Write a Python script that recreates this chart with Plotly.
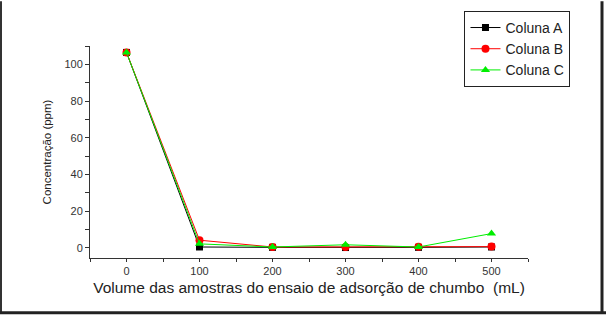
import plotly.graph_objects as go

volume = [0, 100, 200, 300, 400, 500]
coluna_a = [106.5, 0.5, 0.3, 0.2, 0.3, 0.5]
coluna_b = [106.5, 4.2, 0.5, 0.5, 0.6, 0.7]
coluna_c = [106.5, 2.2, 0.5, 1.7, 0.5, 7.8]
x_ticks = [0, 100, 200, 300, 400, 500]
y_ticks = [0, 20, 40, 60, 80, 100]

fig = go.Figure()
fig.add_trace(go.Scatter(x=volume, y=coluna_a, name="Coluna A", mode="lines+markers",
                         line=dict(color="black", width=1),
                         marker=dict(symbol="square", size=7, color="black")))
fig.add_trace(go.Scatter(x=volume, y=coluna_b, name="Coluna B", mode="lines+markers",
                         line=dict(color="#ff0000", width=1),
                         marker=dict(symbol="circle", size=8, color="#ff0000")))
fig.add_trace(go.Scatter(x=volume, y=coluna_c, name="Coluna C", mode="lines+markers",
                         line=dict(color="#00ee00", width=1),
                         marker=dict(symbol="triangle-up", size=8, color="#00ee00")))

fig.update_layout(
    width=606, height=315,
    margin=dict(l=90, r=78, t=45, b=57),
    paper_bgcolor="white", plot_bgcolor="white",
    font=dict(family="Liberation Sans, Arial", color="#222"),
    showlegend=True,
    legend=dict(x=1.097, y=1.16, xanchor="right", yanchor="top",
                bordercolor="#222", borderwidth=1, bgcolor="white",
                font=dict(size=14, color="#222"), tracegroupgap=0,
                itemwidth=30),
    xaxis=dict(range=[-50, 550], tickvals=x_ticks, ticks="outside", ticklen=3,
               tickcolor="#333", showline=True, linecolor="#333", linewidth=1,
               showgrid=False, zeroline=False, tickfont=dict(size=11, color="#333"),
               minor=dict(dtick=50, ticks="outside", ticklen=3, tickcolor="#333"),
               title=dict(text="Volume das amostras do ensaio de adsorção de chumbo  (mL)",
                          font=dict(size=15.5, color="#222"), standoff=5)),
    yaxis=dict(range=[-5.5, 110], tickvals=y_ticks, ticks="outside", ticklen=4,
               tickcolor="#333", showline=True, linecolor="#333", linewidth=1,
               showgrid=False, zeroline=False, tickfont=dict(size=11, color="#333"),
               minor=dict(dtick=10, ticks="outside", ticklen=4, tickcolor="#333"),
               title=dict(text="Concentração (ppm)",
                          font=dict(size=11.5, color="#222"),
                          standoff=10)),
)

# outer frame (left, right, bottom)
pw = 606 - 90 - 78
ph = 315 - 45 - 57
def px(xp):
    return (xp - 90) / pw
def py(yp):
    return (315 - 57 - yp) / ph
fig.add_shape(type="line", xref="paper", yref="paper", x0=px(1), x1=px(1), y0=py(0), y1=py(313),
              line=dict(color="#333", width=2))
fig.add_shape(type="line", xref="paper", yref="paper", x0=px(602), x1=px(602), y0=py(0), y1=py(313),
              line=dict(color="#222", width=3))
fig.add_shape(type="line", xref="paper", yref="paper", x0=px(0), x1=px(606), y0=py(313), y1=py(313),
              line=dict(color="#222", width=3))

fig.write_html("out.html")
